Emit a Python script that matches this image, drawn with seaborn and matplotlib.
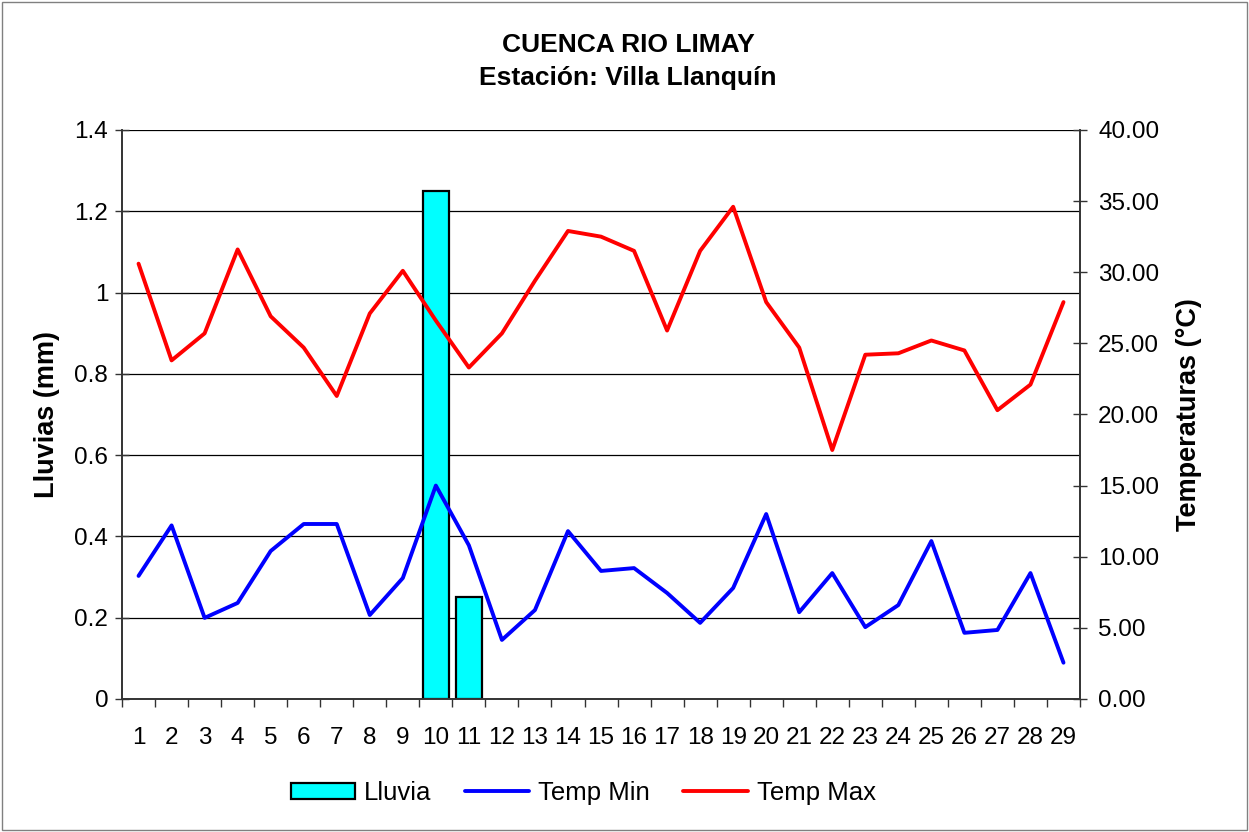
import matplotlib
matplotlib.use("Agg")
import matplotlib.pyplot as plt
import seaborn as sns
import pandas as pd
import numpy as np
from matplotlib.patches import Patch, Rectangle
from matplotlib.lines import Line2D

dias = list(range(1, 30))
lluvia = [0, 0, 0, 0, 0, 0, 0, 0, 0, 1.25, 0.25, 0, 0, 0, 0, 0, 0, 0, 0, 0,
          0, 0, 0, 0, 0, 0, 0, 0, 0]
temp_min = [8.65, 12.2, 5.7, 6.75, 10.4, 12.3, 12.3, 5.9, 8.5, 15.0, 10.8, 4.15,
            6.25, 11.8, 9.0, 9.2, 7.45, 5.35, 7.8, 13.0, 6.1, 8.85, 5.05, 6.6,
            11.1, 4.65, 4.85, 8.85, 2.55]
temp_max = [30.6, 23.8, 25.7, 31.6, 26.9, 24.7, 21.3, 27.1, 30.1, 26.6, 23.3, 25.7,
            29.4, 32.9, 32.5, 31.5, 25.9, 31.5, 34.6, 27.9, 24.7, 17.5, 24.2, 24.3,
            25.2, 24.5, 20.3, 22.1, 27.9]

sns.set_theme(style="white")
plt.rcParams['font.family'] = ['Liberation Sans', 'DejaVu Sans']
plt.rcParams['text.color'] = 'black'
plt.rcParams['axes.labelcolor'] = 'black'
plt.rcParams['xtick.color'] = 'black'
plt.rcParams['ytick.color'] = 'black'

df = pd.DataFrame({"dia": dias, "lluvia": lluvia, "tmin": temp_min, "tmax": temp_max})

fig = plt.figure(figsize=(12.49, 8.32), dpi=100)
fig.patch.set_facecolor("white")
fig.add_artist(Rectangle((0.002, 0.002), 0.996, 0.996, transform=fig.transFigure,
                         fill=False, edgecolor="#808080", linewidth=1))
ax = fig.add_axes([0.0977, 0.1599, 0.7670, 0.6839])
ax.set_facecolor("white")

rain = df[df["lluvia"] > 0]
sns.barplot(data=rain, x="dia", y="lluvia", native_scale=True, width=0.78,
            color="#00FFFF", saturation=1, edgecolor="black", linewidth=1.6, ax=ax)
ax.set_xlim(0.5, 29.5)
ax.set_ylim(0, 1.4)
ax.set_yticks(np.arange(0, 1.41, 0.2))
ax.set_yticklabels(["0", "0.2", "0.4", "0.6", "0.8", "1", "1.2", "1.4"])
ax.yaxis.grid(True, color="black", linewidth=0.9)
ax.set_axisbelow(True)

ax2 = ax.twinx()
sns.lineplot(data=df, x="dia", y="tmin", color="#0000FF", linewidth=2.8, ax=ax2)
sns.lineplot(data=df, x="dia", y="tmax", color="#FF0000", linewidth=2.8, ax=ax2)
ax2.set_ylim(0, 40)
ax2.set_yticks(np.arange(0, 40.1, 5))
ax2.set_yticklabels([f"{v:.2f}" for v in np.arange(0, 40.1, 5)])
ax2.set_xlim(0.5, 29.5)

ax.set_xticks(dias)
ax.set_xticklabels([str(d) for d in dias])
ax.set_xticks(np.arange(0.5, 30, 1), minor=True)
ax.tick_params(axis="x", which="major", length=0, labelsize=17.5, pad=20)
ax.tick_params(axis="x", which="minor", length=6, width=1, color="#333333", direction="out", bottom=True)
ax.tick_params(axis="y", length=10, width=1, color="#333333", direction="inout", left=True, labelsize=17.5, pad=5)
ax2.tick_params(axis="y", length=10, width=1, color="#333333", direction="inout", right=True, labelsize=17.5, pad=8)

for a in (ax, ax2):
    a.spines["top"].set_visible(False)
    for s in ("left", "right", "bottom"):
        a.spines[s].set_color("#333333")
        a.spines[s].set_linewidth(1.2)

ax.set_xlabel("")
ax.set_ylabel("Lluvias (mm)", fontsize=19.5, fontweight="bold", labelpad=10)
ax2.set_ylabel("Temperaturas (°C)", fontsize=19.5, fontweight="bold", labelpad=12)

fig.text(0.503, 0.946, "CUENCA RIO LIMAY", ha="center", va="center", fontsize=19, fontweight="bold")
fig.text(0.503, 0.906, "Estación: Villa Llanquín", ha="center", va="center", fontsize=19, fontweight="bold")

handles = [Patch(facecolor="#00FFFF", edgecolor="black", linewidth=1.6),
           Line2D([0], [0], color="#0000FF", linewidth=2.8),
           Line2D([0], [0], color="#FF0000", linewidth=2.8)]
fig.legend(handles, ["Lluvia", "Temp Min", "Temp Max"], loc="center",
           bbox_to_anchor=(0.467, 0.047), ncol=3, frameon=False, fontsize=18.5,
           handlelength=2.5, handleheight=0.55, columnspacing=1.3, handletextpad=0.35)

fig.savefig("out.png", dpi=100, facecolor="white")
